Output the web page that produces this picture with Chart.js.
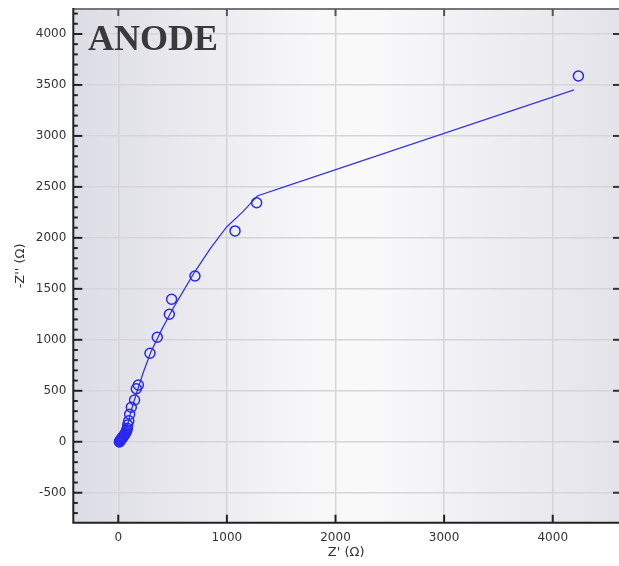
<!DOCTYPE html>
<html>
<head>
<meta charset="utf-8">
<script src="https://cdn.jsdelivr.net/npm/chart.js@4/dist/chart.umd.min.js"></script>
<style>
html,body{margin:0;padding:0;background:#fff;}
#wrap{width:619px;height:566px;position:relative;}
</style>
</head>
<body>
<div id="wrap"><canvas id="c" width="619" height="566"></canvas></div>
<script>
// Measured impedance data (Z' and -Z'' in ohms)
const zReal = [10,14,18,22,27,32,37,43,50,56,62,68,74,80,84,87,97,105,120,150,166,185,292,359,470,491,706,1075,1274,4236];
const zImag = [-2,5,12,18,25,32,40,48,57,66,76,88,100,115,132,165,205,270,338,410,520,557,868,1025,1251,1398,1626,2068,2345,3588];
// Fitted curve
const fitReal = [10,30,60,90,110,140,175,230,300,400,500,600,700,850,1000,1150,1280,1500,4196];
const fitImag = [0,40,100,180,270,380,500,680,880,1100,1300,1480,1660,1900,2110,2260,2411,2490,3451];
// Tick labels
const xTicks = [0,1000,2000,3000,4000];
const yTicks = [-500,0,500,1000,1500,2000,2500,3000,3500,4000];
const xRange = [-414, 4610];
const yRange = [-794, 4245];
const titleText = "ANODE";
const xTitle = "Z' (\u03A9)";
const yTitle = "-Z'' (\u03A9)";

const pts = zReal.map((x,i)=>({x:x,y:zImag[i]}));
const fit = fitReal.map((x,i)=>({x:x,y:fitImag[i]}));

const decor = {
  id:'decor',
  beforeDraw(chart){
    const {ctx, chartArea:a} = chart;
    ctx.save();
    ctx.fillStyle='#fff';
    ctx.fillRect(0,0,chart.width,chart.height);
    const g = ctx.createLinearGradient(a.left,0,a.right,0);
    g.addColorStop(0,'#dcdce5');
    g.addColorStop(0.45,'#f8f8f9');
    g.addColorStop(0.55,'#f9f9fa');
    g.addColorStop(1,'#e3e3ea');
    ctx.fillStyle=g;
    ctx.fillRect(a.left,a.top,a.right-a.left,a.bottom-a.top);
    ctx.restore();
  },
  afterDraw(chart){
    const {ctx, chartArea:a, scales} = chart;
    const xs = scales.x, ys = scales.y;
    ctx.save();
    ctx.strokeStyle='#777';
    ctx.lineWidth=2;
    ctx.beginPath(); ctx.moveTo(a.left,a.top); ctx.lineTo(a.right,a.top); ctx.stroke();
    ctx.strokeStyle='#222';
    ctx.beginPath(); ctx.moveTo(a.left,a.top-1); ctx.lineTo(a.left,a.bottom); ctx.lineTo(a.right,a.bottom); ctx.stroke();
    ctx.lineWidth=2;
    for(let v=-700; v<=4200; v+=100){
      const y = ys.getPixelForValue(v);
      const major = (v%500===0);
      ctx.beginPath();
      ctx.moveTo(a.left, y); ctx.lineTo(a.left + (major?9:4.5), y); ctx.stroke();
    }
    ctx.strokeStyle='#333';
    yTicks.forEach(v=>{
      const y = ys.getPixelForValue(v);
      ctx.beginPath(); ctx.moveTo(a.right, y); ctx.lineTo(a.right-6, y); ctx.stroke();
    });
    xTicks.forEach(v=>{
      const x = xs.getPixelForValue(v);
      ctx.strokeStyle='#222';
      ctx.beginPath(); ctx.moveTo(x, a.bottom); ctx.lineTo(x, a.bottom-8); ctx.stroke();
      ctx.strokeStyle='#555';
      ctx.beginPath(); ctx.moveTo(x, a.top); ctx.lineTo(x, a.top+7); ctx.stroke();
    });
    ctx.fillStyle='#3a3a3a';
    ctx.font='bold 36px "Liberation Serif", "DejaVu Serif", serif';
    ctx.textBaseline='alphabetic';
    ctx.textAlign='left';
    ctx.fillText(titleText, 88, 50);
    ctx.restore();
  }
};

const fmt = v => String(v);

new Chart(document.getElementById('c'), {
  type:'scatter',
  data:{
    datasets:[
      {data:pts, showLine:false, pointRadius:5, pointHoverRadius:5, pointStyle:'circle',
       borderColor:'rgb(40,40,240)', backgroundColor:'rgba(0,0,0,0)', borderWidth:1.5},
      {data:fit, showLine:true, pointRadius:0, borderColor:'rgb(55,55,225)', borderWidth:1.3, tension:0, fill:false}
    ]
  },
  options:{
    responsive:false,
    animation:false,
    events:[],
    layout:{autoPadding:false, padding:{top:9,right:0,left:0,bottom:0}},
    plugins:{legend:{display:false}, tooltip:{enabled:false}},
    scales:{
      x:{
        type:'linear', min:xRange[0], max:xRange[1],
        afterBuildTicks(s){ s.ticks = xTicks.map(v=>({value:v})); },
        afterFit(s){ s.height = 43.3; s.paddingLeft = 0; s.paddingRight = 0; },
        grid:{color:'#d5d5d8', lineWidth:1.5, drawTicks:false},
        border:{display:false},
        ticks:{padding:8, color:'#333', callback:fmt, font:{family:'"DejaVu Sans", sans-serif', size:12}, maxRotation:0, autoSkip:false},
        title:{display:true, text:xTitle, color:'#333', font:{family:'"DejaVu Sans", sans-serif', size:13}, padding:{top:6,bottom:6}}
      },
      y:{
        type:'linear', min:yRange[0], max:yRange[1],
        afterBuildTicks(s){ s.ticks = yTicks.map(v=>({value:v})); },
        afterFit(s){ s.width = 73.3; s.paddingTop = 0; s.paddingBottom = 0; },
        grid:{color:'#d5d5d8', lineWidth:1.5, drawTicks:false},
        border:{display:false},
        ticks:{padding:7, color:'#333', callback:fmt, font:{family:'"DejaVu Sans", sans-serif', size:12}, autoSkip:false},
        title:{display:true, text:yTitle, color:'#333', font:{family:'"DejaVu Sans", sans-serif', size:13}, padding:{top:13,bottom:13}}
      }
    }
  },
  plugins:[decor]
});
</script>
</body>
</html>
